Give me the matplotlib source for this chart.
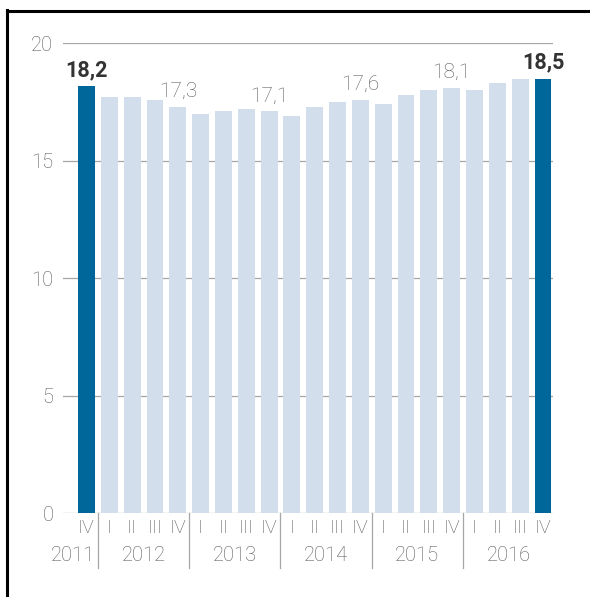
import matplotlib
matplotlib.use("Agg")
import matplotlib.pyplot as plt
from matplotlib.lines import Line2D

plt.rcParams['font.family'] = ['Roboto', 'DejaVu Sans']

# quarterly values, 2011 IV .. 2016 IV
quarters = ['IV',
            'I', 'II', 'III', 'IV',
            'I', 'II', 'III', 'IV',
            'I', 'II', 'III', 'IV',
            'I', 'II', 'III', 'IV',
            'I', 'II', 'III', 'IV']
values = [18.2,
          17.7, 17.7, 17.6, 17.3,
          17.0, 17.1, 17.2, 17.1,
          16.9, 17.3, 17.5, 17.6,
          17.4, 17.8, 18.0, 18.1,
          18.0, 18.3, 18.5, 18.5]
years = ['2011', '2012', '2013', '2014', '2015', '2016']
year_sizes = [1, 4, 4, 4, 4, 4]
highlight = [0, 20]
labelled = [4, 8, 12, 16]

dark = '#00679a'
light = '#d3deec'
grey_txt = '#595959'
grid_c = '#a6a6a6'

fig = plt.figure(figsize=(5.9, 5.97), dpi=100)
ax = fig.add_axes([63 / 590, 1 - 513.3 / 597, 490 / 590, 470 / 597])

x = list(range(len(values)))
colors = [dark if i in highlight else light for i in x]
ax.bar(x, values, width=0.74, color=colors, zorder=2)

ax.set_xlim(-1.03, 20.44)
ax.set_ylim(0, 20)
ax.set_yticks([0, 5, 10, 15, 20])
ax.yaxis.grid(True, color=grid_c, linewidth=0.9, zorder=0)
ax.set_axisbelow(True)
ax.tick_params(axis='y', length=0, pad=7, labelsize=14.5, labelcolor=grey_txt)
for lab in ax.get_yticklabels():
    lab.set_fontweight('light')
ax.set_xticks([])
for s in ax.spines.values():
    s.set_visible(False)

# value labels
for i in highlight:
    ax.annotate(f'{values[i]:.1f}'.replace('.', ','), (i, values[i]),
                xytext=(0, 7), textcoords='offset points', ha='center',
                va='baseline', fontsize=15.5, fontweight='bold', color='#333333')
for i in labelled:
    ax.annotate(f'{values[i]:.1f}'.replace('.', ','), (i, values[i]),
                xytext=(0, 7), textcoords='offset points', ha='center',
                va='baseline', fontsize=15, fontweight='light', color=grey_txt)

# quarter and year labels under the bars
tr = ax.get_xaxis_transform()
for i, q in enumerate(quarters):
    ax.text(i, -15 / 470, q, transform=tr, ha='center', va='center',
            fontsize=14, fontweight='light', color=grey_txt)
start = 0
for yr, n in zip(years, year_sizes):
    mid = start + (n - 1) / 2
    if yr == '2011':
        mid = start - 0.6
    ax.text(mid, -42 / 470, yr, transform=tr, ha='center', va='center',
            fontsize=14.5, fontweight='light', color=grey_txt)
    start += n
    if start < len(values):
        ax.plot([start - 0.5, start - 0.5], [0, -55 / 470], transform=tr,
                color=grid_c, linewidth=0.9, clip_on=False)

# frame lines on top and left
fig.add_artist(Line2D([7 / 590, 1], [1 - 11 / 597, 1 - 11 / 597],
                      color='black', linewidth=2.2))
fig.add_artist(Line2D([7 / 590, 7 / 590], [1 - 10 / 597, 1 - 595 / 597],
                      color='black', linewidth=2.2))

fig.savefig('out.png', dpi=100, facecolor='white')
